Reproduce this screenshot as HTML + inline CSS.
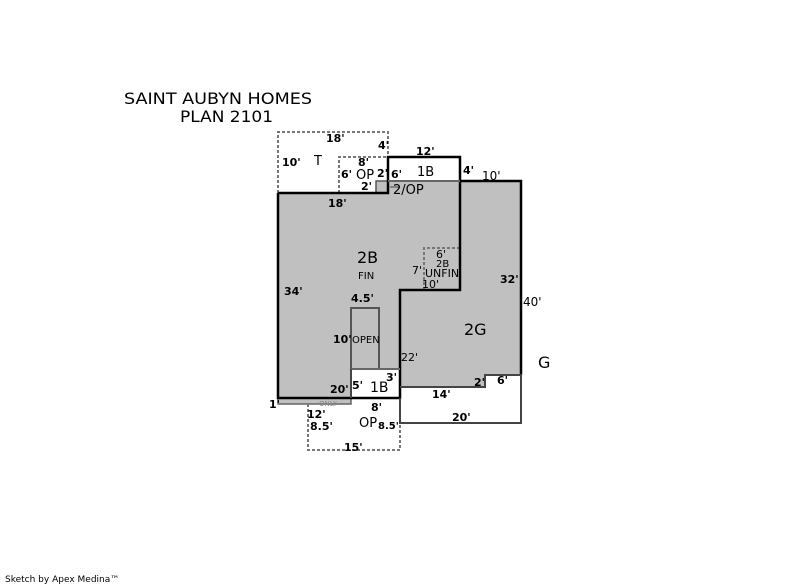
<!DOCTYPE html>
<html><head><style>
body{margin:0;background:#fff;}
svg{display:block;font-family:"DejaVu Sans","Liberation Sans",sans-serif;}
.b{font-weight:bold;font-size:11px;font-family:"DejaVu Sans",sans-serif;}
.n{font-size:11px;}
</style></head><body>
<svg width="800" height="587" viewBox="0 0 800 587">
<rect width="800" height="587" fill="#fff"/>
<polygon points="278,193 376,193 376,181 460,181 460,290 400,290 400,369 351,369 351,398 278,398" fill="#c0c0c0"/>
<polygon points="460,181 521,181 521,375 485,375 485,387 400,387 400,290 460,290" fill="#c0c0c0"/>
<rect x="278" y="398" width="73" height="6" fill="#c0c0c0" stroke="#666" stroke-width="1.5"/>
<rect x="351" y="308" width="28" height="61" fill="#c0c0c0" stroke="#555" stroke-width="2"/>
<rect x="376" y="181" width="12" height="12" fill="#c0c0c0" stroke="#555" stroke-width="1.5"/>
<g fill="none" stroke="#777" stroke-width="2" stroke-dasharray="3,2">
<polyline points="278,193 278,132 388,132 388,157"/>
<polyline points="339,193 339,157 388,157"/>
<polyline points="424,290 424,248 460,248"/>
<polyline points="308,404 308,450 400,450 400,423"/>
</g>
<g fill="none" stroke="#000" stroke-width="2.5">
<polyline points="278,193 388,193 388,157 460,157 460,290 400,290 400,398 278,398 278,193"/>
<line x1="388" y1="181" x2="460" y2="181" stroke="#666" stroke-width="2"/>
<polyline points="460,181 521,181 521,375"/>
<line x1="351" y1="369" x2="400" y2="369" stroke="#666" stroke-width="2"/>
</g>
<g fill="none" stroke="#444" stroke-width="2">
<polyline points="400,387 485,387 485,375 521,375 521,423 400,423 400,398"/>
<line x1="351" y1="369" x2="351" y2="398"/>
<line x1="390" y1="187" x2="400" y2="187" stroke-width="1"/>
</g>
<text x="124" y="104" font-size="16" textLength="188" lengthAdjust="spacingAndGlyphs">SAINT AUBYN HOMES</text>
<text x="180" y="122" font-size="16" textLength="93" lengthAdjust="spacingAndGlyphs">PLAN 2101</text>
<text x="5" y="582" font-size="9">Sketch by Apex Medina™</text>
<g class="b">
<text x="326" y="142">18'</text><text x="378" y="149">4'</text>
<text x="282" y="166">10'</text><text x="358" y="166">8'</text>
<text x="341" y="178">6'</text><text x="377" y="177">2'</text><text x="391" y="178">6'</text>
<text x="361" y="190">2'</text><text x="328" y="207">18'</text>
<text x="416" y="155">12'</text><text x="463" y="174">4'</text>
<text x="284" y="295">34'</text><text x="351" y="302">4.5'</text>
<text x="333" y="343">10'</text><text x="500" y="283">32'</text>
<text x="330" y="393">20'</text><text x="352" y="389">5'</text><text x="386" y="381">3'</text>
<text x="269" y="408">1'</text><text x="307" y="418">12'</text><text x="371" y="411">8'</text>
<text x="310" y="430">8.5'</text><text x="378" y="429" font-size="10">8.5'</text>
<text x="432" y="398">14'</text><text x="474" y="386">2'</text><text x="497" y="384">6'</text>
<text x="452" y="421">20'</text><text x="344" y="451">15'</text>
</g>
<g class="n">
<text x="482" y="180" font-size="12">10'</text>
<text x="523" y="306" font-size="12">40'</text>
<text x="412" y="274">7'</text><text x="436" y="258">6'</text>
<text x="436" y="267" font-size="10">2B</text>
<text x="425" y="277" font-size="11">UNFIN</text>
<text x="422" y="288">10'</text>
<text x="401" y="361">22'</text>
<text x="358" y="279" font-size="10">FIN</text>
<text x="352" y="343" font-size="10">OPEN</text>
<text x="319" y="406" font-size="7" fill="#888">ONLY</text>
</g>
<g font-size="13">
<text x="314" y="165">T</text><text x="356" y="179">OP</text>
<text x="417" y="176">1B</text><text x="393" y="194">2/OP</text>
<text x="357" y="263" font-size="16">2B</text>
<text x="464" y="335" font-size="16">2G</text>
<text x="370" y="392" font-size="14">1B</text>
<text x="359" y="427" font-size="13">OP</text>
<text x="538" y="368" font-size="16">G</text>
</g>
</svg>
</body></html>
